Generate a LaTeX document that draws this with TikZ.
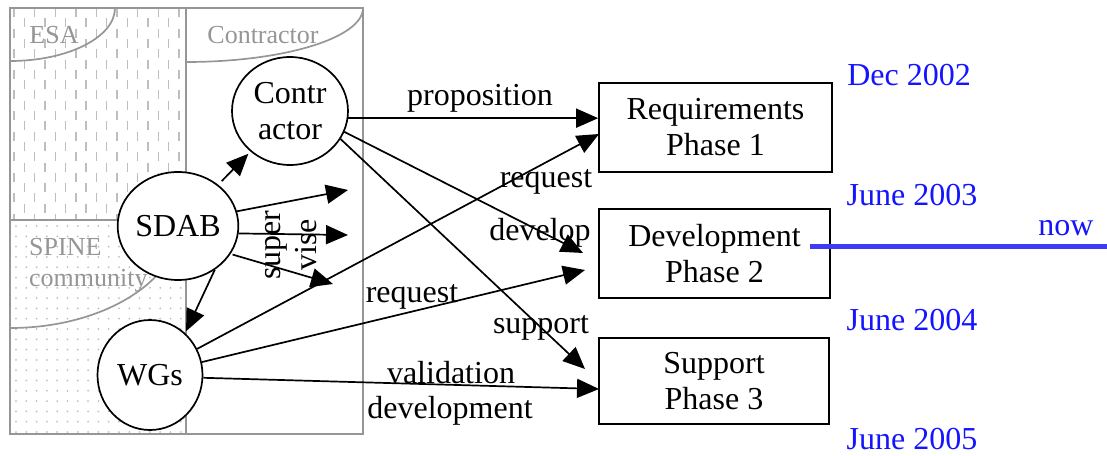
\documentclass[tikz,border=0pt]{standalone}
\usepackage{fontspec}
\setmainfont{Liberation Serif}
\usetikzlibrary{shapes.geometric,arrows.meta,calc}
\definecolor{frame}{RGB}{150,150,150}
\definecolor{patgray}{RGB}{190,190,190}
\definecolor{dateblue}{RGB}{20,20,255}
\definecolor{nowblue}{RGB}{60,60,245}
\begin{document}
\begin{tikzpicture}[x=1pt,y=-1pt,
  big/.style={font=\fontsize{32}{36}\selectfont},
  small/.style={font=\fontsize{26}{30}\selectfont, text=frame, inner sep=0pt},
  circ/.style={draw, ellipse, line width=1.7pt, fill=white, inner sep=0pt, big, align=center},
  phase/.style={draw, rectangle, line width=1.7pt, big, align=center, inner sep=0pt},
  arr/.style={line width=1.7pt, -{Triangle[length=22pt,width=19pt]}},
  lbl/.style={big, anchor=base, inner sep=0pt},
  date/.style={big, text=dateblue, anchor=base, inner sep=0pt},
  grayline/.style={draw=frame, line width=1.7pt},
  esadash/.style={draw=patgray, line width=1.4pt, dash pattern=on 9pt off 11.6pt},
]
\useasboundingbox (0,0) rectangle (1107,455);

% patterns
\begin{scope}
  \clip (10,8) rectangle (186,220);
  \foreach \i in {0,...,17}{
    \pgfmathsetmacro\xx{14+10.3*\i}
    \pgfmathsetmacro\ph{mod(\i,2)*10.3}
    \draw[esadash, dash phase=\ph pt] (\xx,8) -- (\xx,222);
  }
\end{scope}
\begin{scope}
  \clip (10,220) rectangle (186,434);
  \foreach \i in {0,...,16}{
    \foreach \j in {0,...,20}{
      \fill[patgray] (16+10.3*\i,226+10.3*\j) circle[radius=1];
    }
  }
\end{scope}

% frame
\draw[grayline] (10,8) rectangle (363,434);
\draw[grayline] (186,8) -- (186,434);
\draw[grayline] (10,220) -- (186,220);
\draw[grayline] (10,61) arc[start angle=90, end angle=0, x radius=105, y radius=53];
\draw[grayline] (186,62) arc[start angle=90, end angle=0, x radius=177, y radius=54];
\draw[grayline] (10,328) arc[start angle=90, end angle=0, x radius=171, y radius=108];

\node[small, anchor=base] (esa) at (54,43) {ESA};
\node[small, anchor=base] (ctrlab) at (263,43) {Contractor};
\node[small, anchor=base west] (spine) at (29,255) {SPINE};
\node[small, anchor=base west] (comm) at (29,286) {community};

% nodes
\node[circ, minimum width=116, minimum height=108] (ctr) at (290,111) {Contr\\actor};
\node[circ, minimum width=103, minimum height=108] (sdab) at (178,226) {SDAB};
\node[circ, minimum width=105, minimum height=110] (wgs) at (150,375) {WGs};

\node[phase, minimum width=233, minimum height=89] (req) at (715.5,127.5) {Requirements\\Phase 1};
\node[phase, minimum width=231, minimum height=89] (dev) at (714.5,253.5) {Development\\Phase 2};
\node[phase, minimum width=230, minimum height=86] (sup) at (714,381) {Support\\Phase 3};

% free ends
\coordinate (devtip) at (583,253);
\coordinate (suptip) at (585,369);
\coordinate (reqtip) at (599,134);
\coordinate (devtip2) at (585,270);
\coordinate (suptip2) at (599,389);
\coordinate (sv1) at (348,190);
\coordinate (sv2) at (348,235);
\coordinate (sv3) at (333,284);

% connectors
\draw[arr] (ctr.-7) -- (ctr.-7 -| req.west);
\draw[arr] (ctr.-21) -- (devtip);
\draw[arr] (ctr.-29) -- (suptip);
\draw[arr] (wgs.29) -- (reqtip);
\draw[arr] (wgs.14) -- (devtip2);
\draw[arr] (wgs.-3) -- (suptip2);
\draw[arr, shorten <=5pt, shorten >=3pt] (sdab) -- (ctr);
\draw[arr, shorten >=2pt] (sdab.-50) -- (wgs.50);
\draw[arr] (sdab.14) -- (sv1);
\draw[arr] (sdab.-7) -- (sv2);
\draw[arr, shorten <=2pt] (sdab.-28) -- (sv3);

% labels
\node[lbl] (lprop) at (480,105) {proposition};
\node[lbl] (lreq1) at (546,187) {request};
\node[lbl] (ldev) at (540,240) {develop};
\node[lbl] (lreq2) at (412,302) {request};
\node[lbl] (lsup) at (541,333) {support};
\node[lbl] (lval) at (451,383) {validation};
\node[lbl] (ldevt) at (450,418) {development};
\node[big, rotate=90, align=center, inner sep=0pt] (lsv) at (291,245) {super\\vise};

% dates
\node[date] (d1) at (909,85) {Dec 2002};
\node[date] (d2) at (912,205) {June 2003};
\node[date] (d3) at (912,330) {June 2004};
\node[date] (d4) at (912,449) {June 2005};
\node[date] (now) at (1066,235) {now};
\coordinate (nowstart) at (810,246);
\coordinate (nowend) at (1107,246);
\draw[nowblue, line width=5pt] (nowstart) -- (nowend);
\end{tikzpicture}
\end{document}
